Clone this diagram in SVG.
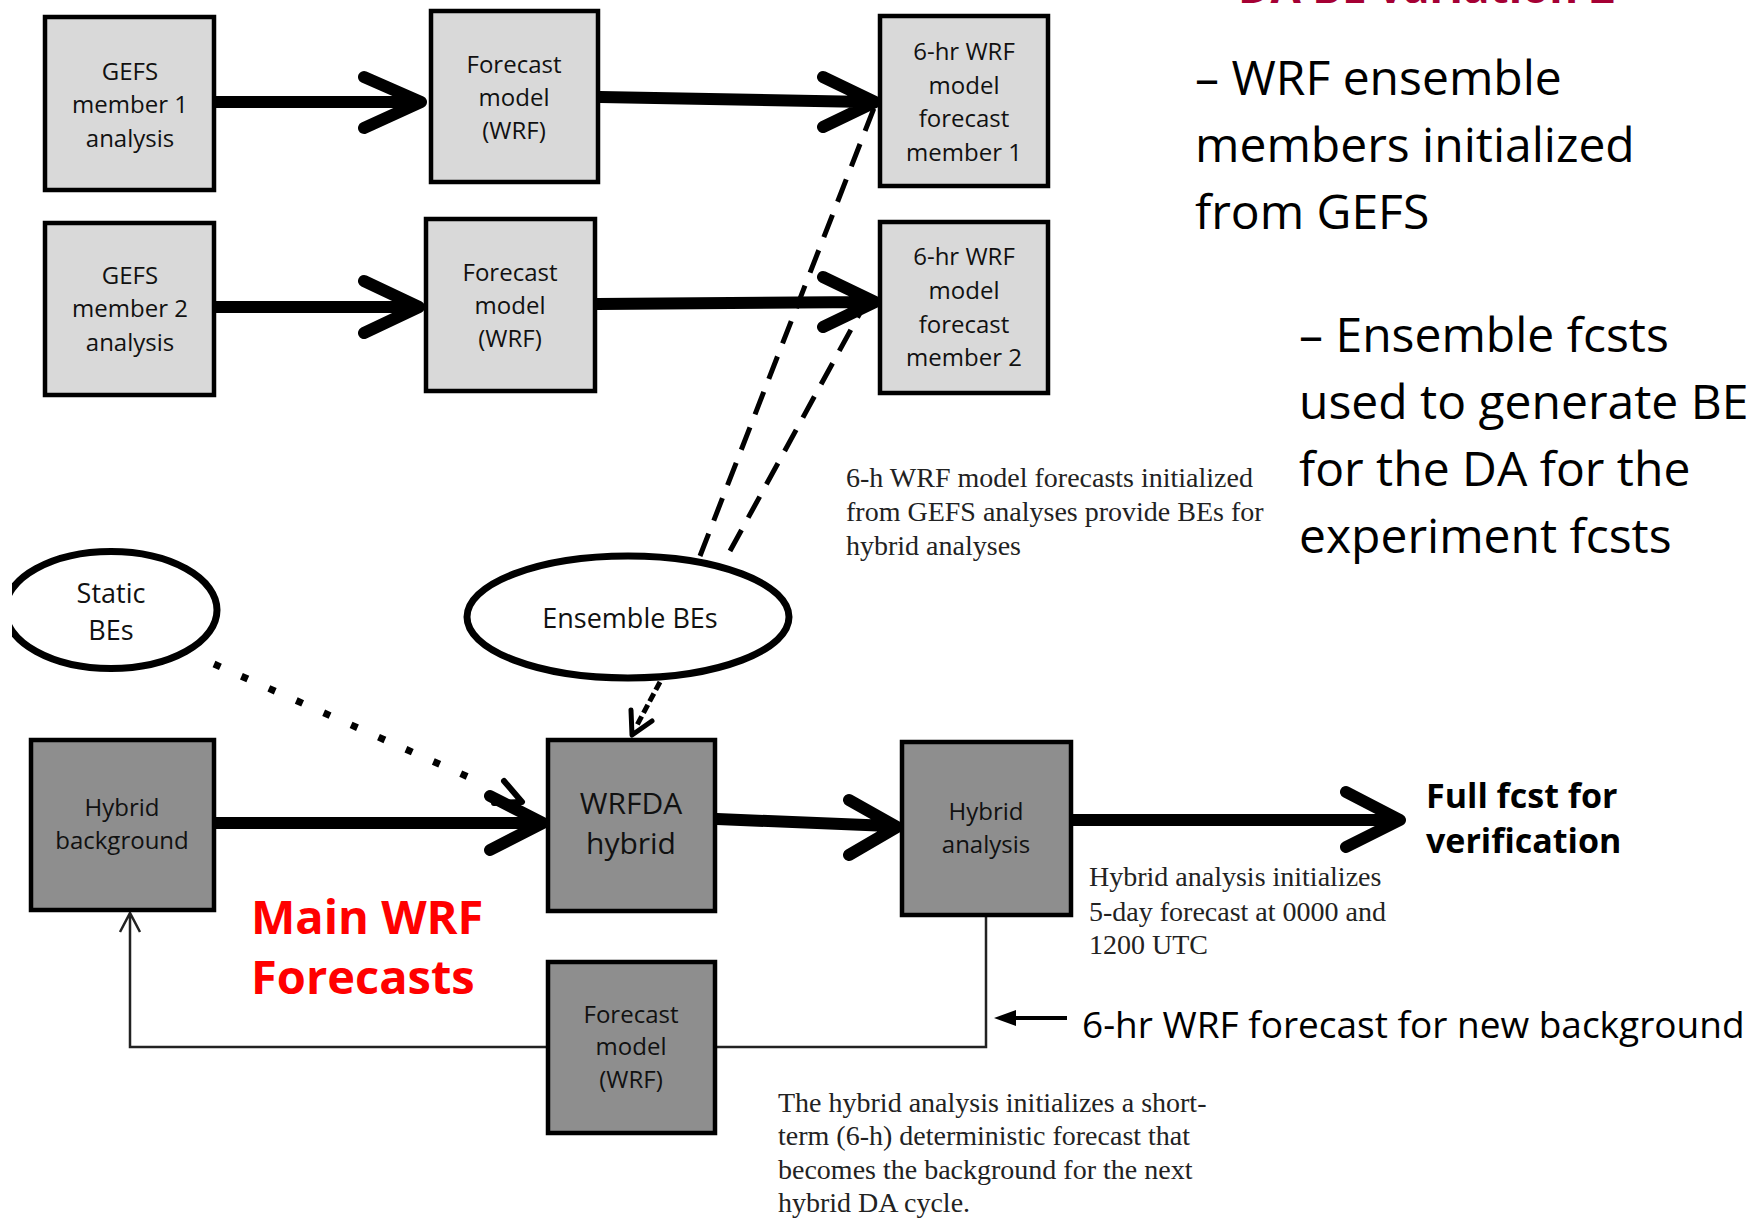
<svg xmlns="http://www.w3.org/2000/svg" width="1752" height="1218" viewBox="0 0 1752 1218">
<style>
.bl{fill:#d9d9d9;stroke:#000;stroke-width:4.5}
.bd{fill:#8e8e8e;stroke:#000;stroke-width:4.5}
.el{fill:#fff;stroke:#000;stroke-width:7}
.t{font-family:"Open Sans","Noto Sans",sans-serif;font-size:24px;fill:#111;text-anchor:middle}
.te{font-family:"Open Sans","Noto Sans",sans-serif;font-size:27px;fill:#111;text-anchor:middle}
.big{font-family:"Open Sans","Noto Sans",sans-serif;font-size:48px;fill:#000}
.ser{font-family:"Liberation Serif","Times New Roman",serif;font-size:28px;fill:#222}
.thick{fill:none;stroke:#000;stroke-width:12;stroke-linecap:round;stroke-linejoin:round}
.dash{fill:none;stroke:#000;stroke-width:5;stroke-dasharray:24 14}
.thin{fill:none;stroke:#222;stroke-width:2.5}
</style>
<defs>
<clipPath id="clipL"><rect x="12" y="0" width="1740" height="1218"/></clipPath>
</defs>

<text x="1238" y="3" style="font-family:'Open Sans',sans-serif;font-weight:bold;font-size:44px;fill:#a50034">DA BE variation 2</text>

<g id="connectors">
  <path class="thick" d="M216,102 H414 M364,77 L421,102 L364,128"/>
  <path class="thick" d="M216,307 H412 M364,281 L419,307 L364,333"/>
  <path class="thick" d="M600,97 L868,102 M823,77 L875,102 L823,127"/>
  <path class="thick" d="M597,304 L868,302 M823,277 L875,302 L823,327"/>
  <path class="dash" d="M700,556 L874,108"/>
  <path class="dash" d="M730,551 L866,302"/>
  <path class="thick" d="M216,823 H536 M490,796 L543,823 L490,850"/>
  <path class="thick" d="M717,819 L890,826 M849,800 L897,827 L849,855"/>
  <path class="thick" d="M1073,820 H1393 M1346,792 L1400,820 L1346,847"/>
  <path fill="none" stroke="#000" stroke-width="7" stroke-dasharray="7 23" d="M214,664 L475,780"/>
  <path fill="none" stroke="#000" stroke-width="6" stroke-linecap="round" stroke-linejoin="round" d="M504,781 L522,802 L494,803"/>
  <path fill="none" stroke="#000" stroke-width="5" stroke-dasharray="9 4" d="M660,682 L636,727"/>
  <path fill="none" stroke="#000" stroke-width="5" stroke-linecap="round" stroke-linejoin="round" d="M652,721 L632,735 L631,710"/>
  <path class="thin" d="M986,917 V1047 H717 M546,1047 H130 V914 M120,932 L130,913 L140,932"/>
  <path fill="none" stroke="#000" stroke-width="4" d="M1067,1018 H1010"/>
  <path fill="#000" d="M994,1018 L1016,1010 L1016,1026 Z"/>
</g>

<g id="gefs1"><rect class="bl" x="45" y="17" width="169" height="173"/>
<text class="t" x="130"><tspan x="130" y="80">GEFS</tspan><tspan x="130" y="113">member 1</tspan><tspan x="130" y="147">analysis</tspan></text></g>
<g id="gefs2"><rect class="bl" x="45" y="223" width="169" height="172"/>
<text class="t"><tspan x="130" y="284">GEFS</tspan><tspan x="130" y="317">member 2</tspan><tspan x="130" y="351">analysis</tspan></text></g>
<g id="fm1"><rect class="bl" x="431" y="11" width="167" height="171"/>
<text class="t"><tspan x="514" y="73">Forecast</tspan><tspan x="514" y="106">model</tspan><tspan x="514" y="139">(WRF)</tspan></text></g>
<g id="fm2"><rect class="bl" x="426" y="219" width="169" height="172"/>
<text class="t"><tspan x="510" y="281">Forecast</tspan><tspan x="510" y="314">model</tspan><tspan x="510" y="347">(WRF)</tspan></text></g>
<g id="wrf6h1"><rect class="bl" x="880" y="16" width="168" height="170"/>
<text class="t"><tspan x="964" y="60">6-hr WRF</tspan><tspan x="964" y="94">model</tspan><tspan x="964" y="127">forecast</tspan><tspan x="964" y="161">member 1</tspan></text></g>
<g id="wrf6h2"><rect class="bl" x="880" y="222" width="168" height="171"/>
<text class="t"><tspan x="964" y="265">6-hr WRF</tspan><tspan x="964" y="299">model</tspan><tspan x="964" y="333">forecast</tspan><tspan x="964" y="366">member 2</tspan></text></g>

<g id="staticbes" clip-path="url(#clipL)"><ellipse class="el" cx="111" cy="610" rx="106" ry="58.5"/>
<text class="te"><tspan x="111" y="603">Static</tspan><tspan x="111" y="640">BEs</tspan></text></g>
<g id="ensemblebes"><ellipse class="el" cx="628" cy="617" rx="161" ry="61"/>
<text class="te" x="630" y="628">Ensemble BEs</text></g>

<g id="hybbg"><rect class="bd" x="31" y="740" width="183" height="170"/>
<text class="t"><tspan x="122" y="816">Hybrid</tspan><tspan x="122" y="849">background</tspan></text></g>
<g id="wrfda"><rect class="bd" x="548" y="740" width="167" height="171"/>
<text class="t" style="font-size:30px"><tspan x="631" y="814">WRFDA</tspan><tspan x="631" y="854">hybrid</tspan></text></g>
<g id="hyban"><rect class="bd" x="902" y="742" width="169" height="173"/>
<text class="t"><tspan x="986" y="820">Hybrid</tspan><tspan x="986" y="853">analysis</tspan></text></g>
<g id="fm3"><rect class="bd" x="548" y="962" width="167" height="171"/>
<text class="t"><tspan x="631" y="1023">Forecast</tspan><tspan x="631" y="1055">model</tspan><tspan x="631" y="1088">(WRF)</tspan></text></g>

<text class="big"><tspan x="1195" y="95">– WRF ensemble</tspan><tspan x="1195" y="162">members initialized</tspan><tspan x="1195" y="229">from GEFS</tspan></text>
<text class="big"><tspan x="1299" y="352">– Ensemble fcsts</tspan><tspan x="1299" y="419">used to generate BE</tspan><tspan x="1299" y="486">for the DA for the</tspan><tspan x="1299" y="553">experiment fcsts</tspan></text>

<text class="ser"><tspan x="846" y="487">6-h WRF model forecasts initialized</tspan><tspan x="846" y="521">from GEFS analyses provide BEs for</tspan><tspan x="846" y="555">hybrid analyses</tspan></text>
<text class="ser"><tspan x="1089" y="886">Hybrid analysis initializes</tspan><tspan x="1089" y="921">5-day forecast at 0000 and</tspan><tspan x="1089" y="954">1200 UTC</tspan></text>
<text class="ser"><tspan x="778" y="1112">The hybrid analysis initializes a short-</tspan><tspan x="778" y="1145">term (6-h) deterministic forecast that</tspan><tspan x="778" y="1179">becomes the background for the next</tspan><tspan x="778" y="1212">hybrid DA cycle.</tspan></text>

<text style="font-family:'Open Sans',sans-serif;font-weight:bold;font-size:34px;fill:#000"><tspan x="1426" y="808">Full fcst for</tspan><tspan x="1426" y="853">verification</tspan></text>
<text style="font-family:'Open Sans',sans-serif;font-weight:bold;font-size:47px;fill:#ff0000"><tspan x="251" y="934">Main WRF</tspan><tspan x="251" y="994">Forecasts</tspan></text>
<text style="font-family:'Open Sans',sans-serif;font-size:37px;fill:#000" x="1082" y="1038">6-hr WRF forecast for new background</text>
</svg>
